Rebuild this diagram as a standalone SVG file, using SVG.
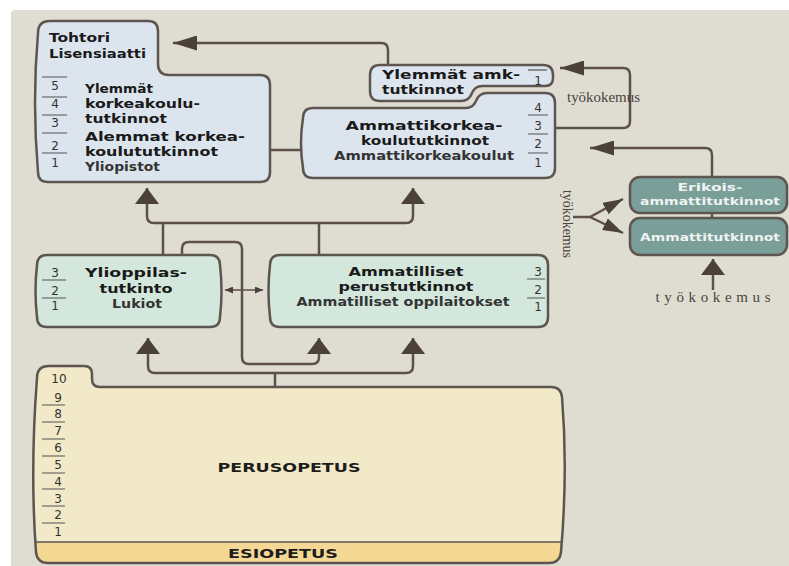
<svg xmlns="http://www.w3.org/2000/svg" width="789" height="566" viewBox="0 0 789 566">
<defs>
<style>
.ln{fill:none;stroke:#5d5049;stroke-width:2.5;stroke-linejoin:round}
.box{stroke:#5d554f;stroke-width:2.5}
.blue{fill:#dce5ee}
.mint{fill:#d3e7dc}
.teal{fill:#7a9e98}
.t{font-family:"DejaVu Sans",sans-serif;font-weight:bold;font-size:12.5px;fill:#1a1a1a}
.i{fill:#343434}
.c{text-anchor:middle}
.n{font-family:"DejaVu Sans",sans-serif;font-size:12px;fill:#333;text-anchor:middle}
.sep{stroke:#555;stroke-width:1.2}
.w{font-family:"DejaVu Sans",sans-serif;font-weight:bold;font-size:11px;fill:#eef3f1;text-anchor:middle}
.s{font-family:"Liberation Serif",serif;font-size:14px;fill:#4a4440}
.p{font-family:"DejaVu Sans",sans-serif;font-weight:bold;font-size:13px;fill:#1c1c1c;text-anchor:middle}
</style>
<marker id="mv" viewBox="0 0 16 24" refX="16" refY="12" markerWidth="16" markerHeight="24" markerUnits="userSpaceOnUse" orient="auto"><path d="M0,0 L16,12 L0,24 Z" fill="#4b403a"/></marker>
<marker id="mh" viewBox="0 0 24 15" refX="24" refY="7.5" markerWidth="24" markerHeight="15" markerUnits="userSpaceOnUse" orient="auto"><path d="M0,0 L24,7.5 L0,15 Z" fill="#4b403a"/></marker>
<marker id="md" viewBox="0 0 15 13" refX="15" refY="6.5" markerWidth="15" markerHeight="13" markerUnits="userSpaceOnUse" orient="auto-start-reverse"><path d="M0,0 L15,6.5 L0,13 Z" fill="#4b403a"/></marker>
<marker id="mf" viewBox="0 0 20 13" refX="20" refY="6.5" markerWidth="20" markerHeight="13" markerUnits="userSpaceOnUse" orient="auto"><path d="M0,0 L20,6.5 L0,13 Z" fill="#4b403a"/></marker>
<marker id="ms" viewBox="0 0 8 7" refX="8" refY="3.5" markerWidth="8" markerHeight="7" markerUnits="userSpaceOnUse" orient="auto-start-reverse"><path d="M0,0 L8,3.5 L0,7 Z" fill="#4b403a"/></marker>
<clipPath id="pc"><path d="M37,378 Q37,366 49,366 H84 Q92,366 92,374 V379 Q92,387 100,387 H551 Q561,387 562,397 Q568,470 561,552 Q560,563 549,563 H48 Q37,563 36,552 Q30,470 37,378 Z"/></clipPath>
</defs>
<rect x="11" y="10" width="790" height="570" rx="4" fill="#dfdcd1"/>

<g id="connectors">
<path class="ln" d="M388,65 V50 Q388,43 381,43 H173" marker-end="url(#mh)"/>
<path class="ln" d="M555,128 H623 Q630,128 630,121 V75 Q630,68 623,68 H560" marker-end="url(#mh)"/>
<path class="ln" d="M712,177 V155 Q712,148 705,148 H590" marker-end="url(#mh)"/>
<path class="ln" d="M712,213 V218"/>
<path class="ln" d="M245,150 H322" marker-start="url(#md)" marker-end="url(#md)"/>
<path class="ln" d="M573,217 H590"/>
<path class="ln" d="M590,217 L623,199" marker-end="url(#mf)"/>
<path class="ln" d="M590,217 L623,233" marker-end="url(#mf)"/>
<path class="ln" d="M713,290 V259" marker-end="url(#mv)"/>
<path class="ln" d="M163,255 V223 H154 Q147,223 147,216 V188" marker-end="url(#mv)"/>
<path class="ln" d="M163,223 H406 Q413,223 413,216 V188" marker-end="url(#mv)"/>
<path class="ln" d="M319,255 V223"/>
<path class="ln" d="M182,255 V249 Q182,242 189,242 H235 Q242,242 242,249 V357 Q242,364 249,364 H312 Q319,364 319,357 V338" marker-end="url(#mv)"/>
<path class="ln" d="M275,387 V373 H155 Q148,373 148,366 V338" marker-end="url(#mv)"/>
<path class="ln" d="M275,373 H406 Q413,373 413,366 V338" marker-end="url(#mv)"/>
<path class="ln" style="stroke-width:1.5" d="M225,290 H263" marker-start="url(#ms)" marker-end="url(#ms)"/>
</g>

<g id="yliopistot">
<path class="box blue" d="M50,21 H148 Q158,21 158,31 V64 Q158,75 169,75 H260 Q270,75 270,85 V172 Q270,182 260,182 H48 Q38,182 38,172 Q32,102 38,33 Q38,21 50,21 Z"/>
<text class="t" x="49" y="42" textLength="61" lengthAdjust="spacingAndGlyphs">Tohtori</text>
<text class="t" x="49" y="58" textLength="97" lengthAdjust="spacingAndGlyphs">Lisensiaatti</text>
<text class="t" x="85" y="93" textLength="68" lengthAdjust="spacingAndGlyphs">Ylemmät</text>
<text class="t" x="85" y="108" textLength="115" lengthAdjust="spacingAndGlyphs">korkeakoulu-</text>
<text class="t" x="85" y="123" textLength="82" lengthAdjust="spacingAndGlyphs">tutkinnot</text>
<text class="t" x="85" y="141" textLength="160" lengthAdjust="spacingAndGlyphs">Alemmat korkea-</text>
<text class="t" x="85" y="156" textLength="133" lengthAdjust="spacingAndGlyphs">koulututkinnot</text>
<text class="t i" x="85" y="171" textLength="75" lengthAdjust="spacingAndGlyphs">Yliopistot</text>
<path class="sep" d="M42,77 H67 M42,97 H67 M42,115 H67 M42,133 H67 M42,153 H67"/>
<text class="n" x="55" y="90">5</text>
<text class="n" x="55" y="108">4</text>
<text class="n" x="55" y="127">3</text>
<text class="n" x="55" y="150">2</text>
<text class="n" x="55" y="167">1</text>
</g>

<g id="ylemmat-amk">
<path class="box blue" d="M380,65 H543 Q553,65 553,75 V78 Q553,86 545,86 H482 Q475,86 472,93 Q469,101 461,101 H380 Q370,101 370,91 V75 Q370,65 380,65 Z"/>
<text class="t" x="382" y="79" textLength="138" lengthAdjust="spacingAndGlyphs">Ylemmät amk-</text>
<text class="t" x="382" y="94" textLength="82" lengthAdjust="spacingAndGlyphs">tutkinnot</text>
<path class="sep" d="M528,70 H547"/>
<text class="n" x="538" y="85">1</text>
</g>

<g id="amk">
<path class="box blue" d="M313,108 H466 Q473,108 476,101 Q479,93 487,93 H545 Q555,93 555,103 V168 Q555,178 545,178 H313 Q303,178 303,168 Q299,143 303,118 Q303,108 313,108 Z"/>
<text class="t c" x="424" y="130" textLength="157" lengthAdjust="spacingAndGlyphs">Ammattikorkea-</text>
<text class="t c" x="425" y="145" textLength="128" lengthAdjust="spacingAndGlyphs">koulututkinnot</text>
<text class="t c i" x="424" y="160" textLength="180" lengthAdjust="spacingAndGlyphs">Ammattikorkeakoulut</text>
<path class="sep" d="M528,115 H548 M528,134 H548 M528,153 H548"/>
<text class="n" x="538" y="112">4</text>
<text class="n" x="538" y="130">3</text>
<text class="n" x="538" y="148">2</text>
<text class="n" x="538" y="167">1</text>
</g>

<g id="erikois">
<rect class="box teal" x="630" y="177" width="157" height="36" rx="10"/>
<text class="w" x="710" y="191" textLength="65" lengthAdjust="spacingAndGlyphs">Erikois-</text>
<text class="w" x="710" y="205" textLength="140" lengthAdjust="spacingAndGlyphs">ammattitutkinnot</text>
</g>
<g id="ammattitutkinnot">
<rect class="box teal" x="630" y="218" width="157" height="37" rx="10"/>
<text class="w" x="710" y="241" textLength="140" lengthAdjust="spacingAndGlyphs">Ammattitutkinnot</text>
</g>

<g id="tyokokemus-labels">
<text class="s" x="567" y="102" textLength="73" lengthAdjust="spacingAndGlyphs">työkokemus</text>
<text class="s" transform="translate(563,224) rotate(90)" text-anchor="middle" textLength="68" lengthAdjust="spacingAndGlyphs">työkokemus</text>
<text class="s" x="713" y="302" text-anchor="middle" style="font-size:15px" textLength="115" lengthAdjust="spacing">työkokemus</text>
</g>

<g id="lukiot">
<path class="box mint" d="M47,255 H210 Q220,255 220,265 Q223,291 220,317 Q220,327 210,327 H47 Q37,327 37,317 Q34,291 37,265 Q37,255 47,255 Z"/>
<text class="t c" x="136" y="277" textLength="102" lengthAdjust="spacingAndGlyphs">Ylioppilas-</text>
<text class="t c" x="136" y="293" textLength="73" lengthAdjust="spacingAndGlyphs">tutkinto</text>
<text class="t c i" x="137" y="308" textLength="50" lengthAdjust="spacingAndGlyphs">Lukiot</text>
<path class="sep" d="M42,280 H66 M42,298 H66"/>
<text class="n" x="55" y="277">3</text>
<text class="n" x="55" y="295">2</text>
<text class="n" x="55" y="310">1</text>
</g>

<g id="ammatilliset">
<path class="box mint" d="M280,255 H538 Q548,255 548,265 V317 Q548,327 538,327 H280 Q270,327 270,317 Q267,291 270,265 Q270,255 280,255 Z"/>
<text class="t c" x="406" y="276" textLength="115" lengthAdjust="spacingAndGlyphs">Ammatilliset</text>
<text class="t c" x="406" y="291" textLength="135" lengthAdjust="spacingAndGlyphs">perustutkinnot</text>
<text class="t c i" x="403" y="306" textLength="213" lengthAdjust="spacingAndGlyphs">Ammatilliset oppilaitokset</text>
<path class="sep" d="M527,279 H545 M527,298 H545"/>
<text class="n" x="538" y="276">3</text>
<text class="n" x="538" y="294">2</text>
<text class="n" x="538" y="311">1</text>
</g>

<g id="perusopetus">
<path d="M37,378 Q37,366 49,366 H84 Q92,366 92,374 V379 Q92,387 100,387 H551 Q561,387 562,397 Q568,470 561,552 Q560,563 549,563 H48 Q37,563 36,552 Q30,470 37,378 Z" fill="#f1e9c7"/>
<rect x="25" y="542" width="560" height="30" fill="#f4d894" clip-path="url(#pc)"/>
<path d="M35,542 H563" stroke="#5d554f" stroke-width="1.5"/>
<path class="box" fill="none" d="M37,378 Q37,366 49,366 H84 Q92,366 92,374 V379 Q92,387 100,387 H551 Q561,387 562,397 Q568,470 561,552 Q560,563 549,563 H48 Q37,563 36,552 Q30,470 37,378 Z"/>
<text class="n" x="59" y="383">10</text>
<path class="sep" d="M42,405 H65 M42,422 H65 M42,439 H65 M42,456 H65 M42,473 H65 M42,489 H65 M42,506 H65 M42,523 H65"/>
<text class="n" x="58" y="402">9</text>
<text class="n" x="58" y="418">8</text>
<text class="n" x="58" y="435">7</text>
<text class="n" x="58" y="452">6</text>
<text class="n" x="58" y="469">5</text>
<text class="n" x="58" y="486">4</text>
<text class="n" x="58" y="503">3</text>
<text class="n" x="58" y="519">2</text>
<text class="n" x="58" y="536">1</text>
<text class="p" x="289" y="472" textLength="143" lengthAdjust="spacingAndGlyphs">PERUSOPETUS</text>
</g>
<g id="esiopetus">
<text class="p" x="283" y="558" textLength="110" lengthAdjust="spacingAndGlyphs">ESIOPETUS</text>
</g>
</svg>
